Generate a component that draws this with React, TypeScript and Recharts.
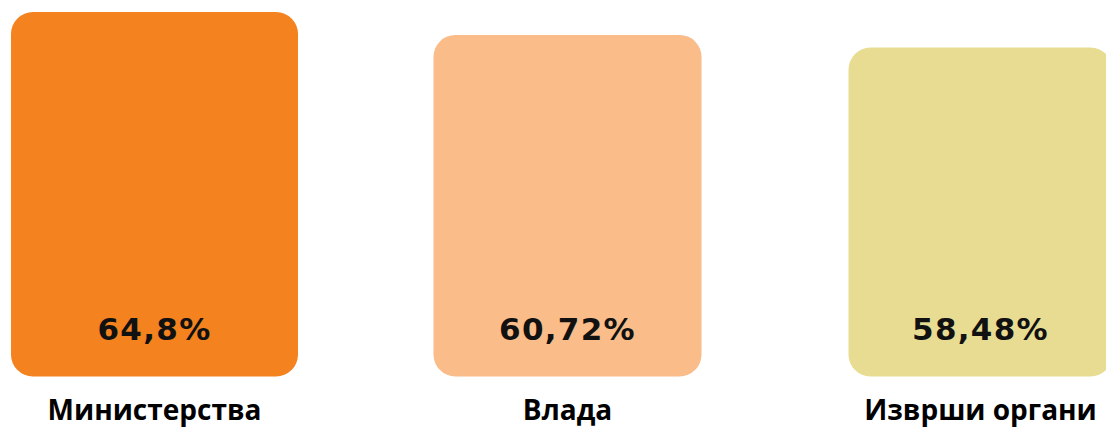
import React from "react";
import { BarChart, Bar, XAxis, YAxis } from "recharts";

const categories = ["Министерства", "Влада", "Изврши органи"];
const values = [64.8, 60.72, 58.48];
const valueLabels = ["64,8%", "60,72%", "58,48%"];

const colors = ["#F3821F", "#FABC88", "#E8DC92"];
const barWidths = [287, 268, 264];

const data = categories.map((c, i) => ({ name: c, value: values[i], label: valueLabels[i] }));

const RoundedBar = (props: any) => {
  const { x, y, width, height, index } = props;
  const cx = x + width / 2;
  const w = barWidths[index];
  const bottom = y + height;
  return (
    <g>
      <rect x={cx - w / 2} y={y} width={w} height={height} rx={22} ry={22} fill={colors[index]} />
      <text
        x={cx}
        y={bottom - 37}
        textAnchor="middle"
        fontFamily="'DejaVu Sans', sans-serif"
        fontWeight={700}
        fontSize={31}
        letterSpacing={1.3}
        fill="#111"
      >
        {valueLabels[index]}
      </text>
    </g>
  );
};

const CategoryTick = (props: any) => {
  const { x, y, payload } = props;
  return (
    <text
      x={x}
      y={y + 35}
      textAnchor="middle"
      fontFamily="'Open Sans', sans-serif"
      fontWeight={700}
      fontSize={28}
      fill="#000"
    >
      {payload.value}
    </text>
  );
};

export default function App() {
  return (
    <div style={{ position: "absolute", left: 0, top: 0, width: 1106, height: 430, overflow: "hidden", background: "#fff" }}>
      <div style={{ position: "absolute", left: -52.5, top: 0 }}>
        <BarChart
          width={1239}
          height={430}
          data={data}
          margin={{ top: 12, right: 0, bottom: 0, left: 0 }}
          barCategoryGap={0}
        >
          <XAxis dataKey="name" axisLine={false} tickLine={false} height={53.5} tick={<CategoryTick />} interval={0} />
          <YAxis hide domain={[0, "dataMax"]} />
          <Bar dataKey="value" shape={<RoundedBar />} isAnimationActive={false} />
        </BarChart>
      </div>
    </div>
  );
}
